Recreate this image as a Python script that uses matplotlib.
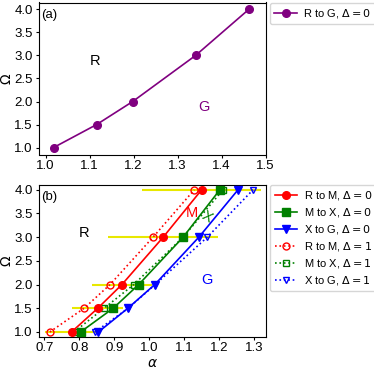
import numpy as np
import matplotlib
matplotlib.use("Agg")
import matplotlib.pyplot as plt

plt.rcParams['font.family'] = ['Liberation Sans', 'DejaVu Sans']
plt.rcParams['font.size'] = 9.5
plt.rcParams['xtick.major.size'] = 2.5
plt.rcParams['ytick.major.size'] = 2.5
plt.rcParams['xtick.major.pad'] = 1.2
plt.rcParams['ytick.major.pad'] = 2.0

# panel (a): R to G boundary
omega = [1.0, 1.5, 2.0, 3.0, 4.0]
alpha_rg = [1.018, 1.116, 1.198, 1.341, 1.462]

# panel (b): boundaries for Delta = 0 and Delta = 1
alpha_rm_0 = [0.778, 0.853, 0.922, 1.040, 1.150]
alpha_mx_0 = [0.804, 0.897, 0.970, 1.097, 1.202]
alpha_xg_0 = [0.855, 0.939, 1.016, 1.142, 1.254]
alpha_rm_1 = [0.716, 0.814, 0.888, 1.011, 1.129]
alpha_mx_1 = [0.785, 0.871, 0.956, 1.097, 1.211]
alpha_xg_1 = [0.845, 0.940, 1.017, 1.166, 1.297]
# spread around the R to M (Delta = 0) points
xerr_rm = [0.075, 0.073, 0.086, 0.157, 0.170]

W, H = 374, 369
fig = plt.figure(figsize=(W / 100, H / 100), dpi=100)

leg_kw = dict(loc='upper left', bbox_to_anchor=(1.02, 1.0), borderaxespad=0,
              handlelength=2.0, handletextpad=0.6, labelspacing=0.35, fontsize=8)

ax1 = fig.add_axes([39 / W, 1 - 154.5 / H, 226.5 / W, 152 / H])
ax1.plot(alpha_rg, omega, '-o', color='purple', ms=5.5, lw=1.2, label=r'R to G, $\Delta = 0$')
ax1.set_xlim(0.985, 1.5)
ax1.set_ylim(0.85, 4.15)
ax1.set_xticks(np.arange(1.0, 1.51, 0.1))
ax1.set_yticks(np.arange(1.0, 4.01, 0.5))
ax1.set_ylabel(r'$\Omega$', fontsize=10)
ax1.yaxis.set_label_coords(-0.11, 0.5)
ax1.text(0.01, 0.96, '(a)', transform=ax1.transAxes, ha='left', va='top')
ax1.text(1.113, 2.89, 'R', color='black', ha='center', va='center', fontsize=10.5)
ax1.text(1.361, 1.89, 'G', color='purple', ha='center', va='center', fontsize=10.5)
ax1.legend(**leg_kw)

ax2 = fig.add_axes([39 / W, 1 - 336.7 / H, 226.7 / W, 151.7 / H])
ax2.errorbar(alpha_rm_0, omega, xerr=xerr_rm, fmt='none', ecolor='#e8e800',
             elinewidth=1.5, capsize=0, zorder=1)
ax2.plot(alpha_rm_0, omega, '-o', color='red', ms=5.5, lw=1.2, label=r'R to M, $\Delta = 0$', zorder=3)
ax2.plot(alpha_mx_0, omega, '-s', color='green', ms=5.5, lw=1.2, label=r'M to X, $\Delta = 0$', zorder=3)
ax2.plot(alpha_xg_0, omega, '-v', color='blue', ms=5.5, lw=1.2, label=r'X to G, $\Delta = 0$', zorder=3)
ax2.plot(alpha_rm_1, omega, ':o', color='red', mfc='none', ms=5, lw=1.2, label=r'R to M, $\Delta = 1$', zorder=2)
ax2.plot(alpha_mx_1, omega, ':s', color='green', mfc='none', ms=5, lw=1.2, label=r'M to X, $\Delta = 1$', zorder=2)
ax2.plot(alpha_xg_1, omega, ':v', color='blue', mfc='none', ms=5, lw=1.2, label=r'X to G, $\Delta = 1$', zorder=2)
ax2.set_xlim(0.685, 1.333)
ax2.set_ylim(0.9, 4.1)
ax2.set_xticks(np.arange(0.7, 1.31, 0.1))
ax2.set_yticks(np.arange(1.0, 4.01, 0.5))
ax2.set_xlabel(r'$\alpha$', fontsize=10)
ax2.xaxis.set_label_coords(0.5, -0.125)
ax2.set_ylabel(r'$\Omega$', fontsize=10)
ax2.yaxis.set_label_coords(-0.11, 0.5)
ax2.text(0.01, 0.96, '(b)', transform=ax2.transAxes, ha='left', va='top')
ax2.text(0.813, 3.09, 'R', color='black', ha='center', va='center', fontsize=10.5)
ax2.text(1.121, 3.51, 'M', color='red', ha='center', va='center', fontsize=10.5)
ax2.text(1.164, 3.42, 'X', color='green', ha='center', va='center', fontsize=10.5, rotation=-30)
ax2.text(1.166, 2.10, 'G', color='blue', ha='center', va='center', fontsize=10.5)
ax2.legend(**leg_kw)

fig.savefig('out.png', dpi=100)
